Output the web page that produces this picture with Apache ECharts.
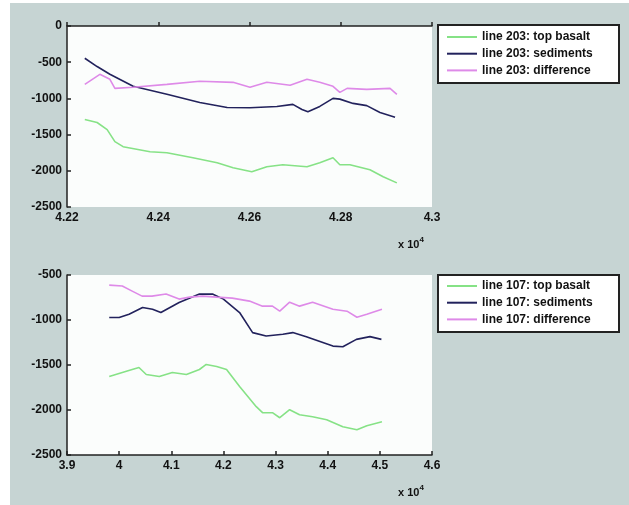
<!DOCTYPE html>
<html>
<head>
<meta charset="utf-8">
<script src="https://cdn.jsdelivr.net/npm/echarts@6/dist/echarts.min.js"></script>
<style>
html,body{margin:0;padding:0;background:#ffffff;}
#chart{width:629px;height:505px;}
</style>
</head>
<body>
<div id="chart"></div>
<script>
// ---- data (x in units of 10^4) ----
const seriesNames203 = ['line 203: top basalt', 'line 203: sediments', 'line 203: difference'];
const seriesNames107 = ['line 107: top basalt', 'line 107: sediments', 'line 107: difference'];

const basalt203 = [
  [4.2239,-1292],[4.2266,-1333],[4.2288,-1431],[4.2305,-1597],[4.2323,-1667],[4.2382,-1736],
  [4.2419,-1750],[4.2476,-1819],[4.2529,-1889],[4.2564,-1958],[4.2605,-2014],[4.2638,-1944],
  [4.2673,-1917],[4.2726,-1944],[4.2754,-1889],[4.2783,-1819],[4.2798,-1917],[4.2820,-1917],
  [4.2864,-1986],[4.2893,-2083],[4.2923,-2167]
];
const sediments203 = [
  [4.2239,-445],[4.2266,-560],[4.2294,-667],[4.2345,-833],[4.2419,-944],[4.2491,-1056],
  [4.2551,-1125],[4.2601,-1130],[4.2660,-1111],[4.2695,-1083],[4.2715,-1153],[4.2728,-1185],
  [4.2754,-1111],[4.2783,-1000],[4.2798,-1010],[4.2827,-1069],[4.2857,-1100],[4.2886,-1194],
  [4.2919,-1260]
];
const difference203 = [
  [4.2239,-806],[4.2272,-667],[4.2294,-736],[4.2305,-861],[4.2345,-847],[4.2419,-806],
  [4.2491,-764],[4.2564,-778],[4.2601,-847],[4.2638,-778],[4.2689,-819],[4.2726,-736],
  [4.2754,-778],[4.2783,-833],[4.2798,-917],[4.2814,-861],[4.2857,-875],[4.2908,-861],
  [4.2923,-944]
];

const basalt107 = [
  [3.981,-1628],[4.006,-1583],[4.025,-1550],[4.038,-1528],[4.052,-1606],[4.077,-1628],
  [4.102,-1583],[4.129,-1606],[4.154,-1550],[4.167,-1494],[4.187,-1516],[4.206,-1550],
  [4.231,-1740],[4.263,-1963],[4.275,-2030],[4.294,-2030],[4.308,-2086],[4.327,-1997],
  [4.346,-2053],[4.371,-2075],[4.398,-2108],[4.429,-2186],[4.456,-2220],[4.475,-2175],
  [4.504,-2131]
];
const sediments107 = [
  [3.981,-972],[4.000,-972],[4.019,-936],[4.045,-861],[4.064,-880],[4.080,-917],
  [4.115,-805],[4.154,-712],[4.179,-712],[4.200,-768],[4.231,-917],[4.256,-1140],
  [4.282,-1178],[4.314,-1159],[4.333,-1140],[4.359,-1185],[4.381,-1230],[4.410,-1290],
  [4.429,-1297],[4.455,-1215],[4.481,-1185],[4.503,-1215]
];
const difference107 = [
  [3.981,-612],[4.006,-623],[4.025,-679],[4.044,-735],[4.063,-735],[4.090,-712],
  [4.115,-768],[4.135,-746],[4.160,-735],[4.187,-746],[4.217,-757],[4.250,-790],
  [4.275,-846],[4.294,-846],[4.308,-902],[4.327,-802],[4.346,-846],[4.371,-802],
  [4.410,-880],[4.437,-902],[4.456,-969],[4.475,-936],[4.504,-880]
];

const xTicksTop = {min: 4.22, max: 4.3, interval: 0.02};
const yTicksTop = {min: -2500, max: 0, interval: 500};
const xTicksBottom = {min: 3.9, max: 4.6, interval: 0.1};
const yTicksBottom = {min: -2500, max: -500, interval: 500};
const exponentLabel = 'x 10';
const exponentValue = '4';

// ---- styling ----
const colors = ['#86e286', '#22225c', '#de8ae8'];
const fontFamily = 'Liberation Sans, Arial, sans-serif';
const labelFont = {fontFamily: fontFamily, fontSize: 12, fontWeight: 'bold', color: '#111'};
const axisLine = {show: true, lineStyle: {color: '#222', width: 1.5}};
const axisTick = {show: true, inside: true, length: 4, lineStyle: {color: '#222', width: 1.5}};

function xAxis(idx, t, dec) {
  return {
    type: 'value', gridIndex: idx, min: t.min, max: t.max, interval: t.interval,
    axisLine: axisLine, axisTick: axisTick, splitLine: {show: false},
    axisLabel: Object.assign({margin: 5, showMinLabel: true, showMaxLabel: true,
      formatter: v => String(parseFloat(v.toFixed(dec)))}, labelFont)
  };
}
function yAxis(idx, t) {
  return {
    type: 'value', gridIndex: idx, min: t.min, max: t.max, interval: t.interval,
    axisLine: axisLine, axisTick: axisTick, splitLine: {show: false},
    axisLabel: Object.assign({margin: 5, formatter: v => String(v)}, labelFont)
  };
}
function line(name, data, color, idx) {
  return {
    name: name, type: 'line', data: data, xAxisIndex: idx, yAxisIndex: idx,
    symbol: 'none', smooth: false, color: color,
    lineStyle: {color: color, width: 1.6}, emphasis: {disabled: true}
  };
}
function legend(names, top) {
  return {
    data: names.map(n => ({name: n, icon: 'rect'})), orient: 'vertical', left: 447, top: top, padding: 0,
    itemWidth: 30, itemHeight: 2, itemGap: 4.7,
    textStyle: {fontFamily: fontFamily, fontSize: 12, fontWeight: 'bold', color: '#111', lineHeight: 12},
    selectedMode: false, z: 10
  };
}
function expText(x, y) {
  return {
    type: 'text', left: x, top: y, z: 10,
    style: {
      text: '{a|' + exponentLabel + '}{b|' + exponentValue + '}',
      rich: {
        a: {fontFamily: fontFamily, fontSize: 11, fontWeight: 'bold', fill: '#111', verticalAlign: 'bottom'},
        b: {fontFamily: fontFamily, fontSize: 8, fontWeight: 'bold', fill: '#111', verticalAlign: 'top', padding: [0,0,6,0]}
      }
    }
  };
}

const chart = echarts.init(document.getElementById('chart'), null, {renderer: 'canvas'});
chart.setOption({
  backgroundColor: '#c6d4d3',
  animation: false,
  grid: [
    {left: 67, top: 26, width: 365, height: 181, show: true, backgroundColor: '#fbfdfc', borderWidth: 0},
    {left: 67, top: 275, width: 365, height: 180, show: true, backgroundColor: '#fbfdfc', borderWidth: 0}
  ],
  xAxis: [xAxis(0, xTicksTop, 2), xAxis(1, xTicksBottom, 1)],
  yAxis: [yAxis(0, yTicksTop), yAxis(1, yTicksBottom)],
  legend: [legend(seriesNames203, 31), legend(seriesNames107, 280)],
  graphic: [
    {type: 'rect', shape: {x: 0, y: 0, width: 10, height: 505}, style: {fill: '#ffffff'}, z: 1},
    {type: 'rect', shape: {x: 0, y: 0, width: 629, height: 3}, style: {fill: '#ffffff'}, z: 1},
    {type: 'rect', shape: {x: 438, y: 25, width: 181, height: 58}, style: {fill: '#ffffff', stroke: '#222', lineWidth: 2}, z: 1},
    {type: 'rect', shape: {x: 438, y: 275, width: 181, height: 57}, style: {fill: '#ffffff', stroke: '#222', lineWidth: 2}, z: 1},
    expText(398, 236),
    expText(398, 484)
  ],
  series: [
    line(seriesNames203[0], basalt203, colors[0], 0),
    line(seriesNames203[1], sediments203, colors[1], 0),
    line(seriesNames203[2], difference203, colors[2], 0),
    line(seriesNames107[0], basalt107, colors[0], 1),
    line(seriesNames107[1], sediments107, colors[1], 1),
    line(seriesNames107[2], difference107, colors[2], 1)
  ]
});
</script>
</body>
</html>
